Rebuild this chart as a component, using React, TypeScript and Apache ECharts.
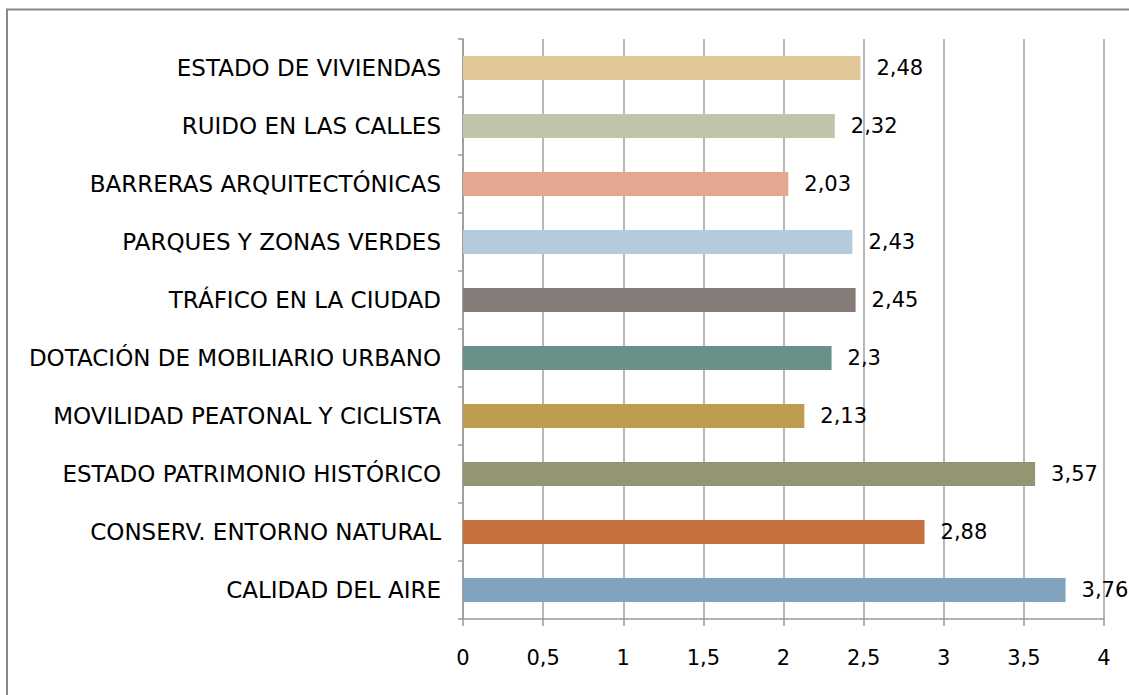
import React, { useEffect, useRef } from "react";
import * as echarts from "echarts";

const categories = [
  "CALIDAD DEL AIRE",
  "CONSERV. ENTORNO NATURAL",
  "ESTADO PATRIMONIO HISTÓRICO",
  "MOVILIDAD PEATONAL Y CICLISTA",
  "DOTACIÓN DE MOBILIARIO URBANO",
  "TRÁFICO EN LA CIUDAD",
  "PARQUES Y ZONAS VERDES",
  "BARRERAS ARQUITECTÓNICAS",
  "RUIDO EN LAS CALLES",
  "ESTADO DE VIVIENDAS",
];
const values = [3.76, 2.88, 3.57, 2.13, 2.3, 2.45, 2.43, 2.03, 2.32, 2.48];
const colors = [
  "#82A3BD",
  "#C5703C",
  "#939670",
  "#C09C50",
  "#6A9189",
  "#857B79",
  "#B4CBDD",
  "#E4A890",
  "#C0C4AA",
  "#E2C799",
];

const FONT = "DejaVu Sans";
const FS = 21;
const FS_CAT = 23;

export default function App() {
  const ref = useRef<HTMLDivElement>(null);
  useEffect(() => {
    document.body.style.margin = "0";
    const chart = echarts.init(ref.current!, null, { renderer: "svg" });
    chart.setOption({
      animation: false,
      backgroundColor: "#ffffff",
      graphic: [
        {
          type: "rect",
          shape: { x: 7, y: 9.5, width: 1300, height: 900 },
          style: { fill: "none", stroke: "#888888", lineWidth: 2 },
          silent: true,
          z: 100,
        },
      ],
      grid: { left: 463, right: 25, top: 39, bottom: 76, containLabel: false },
      xAxis: {
        type: "value",
        min: 0,
        max: 4,
        interval: 0.5,
        axisLine: { show: true, lineStyle: { color: "#999999", width: 1.5 } },
        axisTick: { show: true, length: 7, lineStyle: { color: "#999999", width: 1.5 } },
        splitLine: { show: true, lineStyle: { color: "#a0a0a0", width: 1.5 } },
        axisLabel: {
          margin: 28,
          color: "#000000",
          fontFamily: FONT,
          fontSize: FS,
          formatter: (v: number) => String(v).replace(".", ","),
        },
      },
      yAxis: {
        type: "category",
        data: categories,
        axisLine: { show: true, lineStyle: { color: "#999999", width: 1.5 } },
        axisTick: { show: true, length: 5, inside: false, lineStyle: { color: "#999999", width: 1.5 } },
        axisLabel: {
          margin: 22,
          color: "#000000",
          fontFamily: FONT,
          fontSize: FS_CAT,
        },
      },
      series: [
        {
          type: "bar",
          barWidth: 24,
          data: values.map((v, i) => ({ value: v, itemStyle: { color: colors[i] } })),
          label: {
            show: true,
            position: "right",
            distance: 16,
            color: "#000000",
            fontFamily: FONT,
            fontSize: FS,
            formatter: (p: any) => String(p.value).replace(".", ","),
          },
        },
      ],
    });
    return () => chart.dispose();
  }, []);
  return <div ref={ref} style={{ width: 1129, height: 695 }} />;
}
